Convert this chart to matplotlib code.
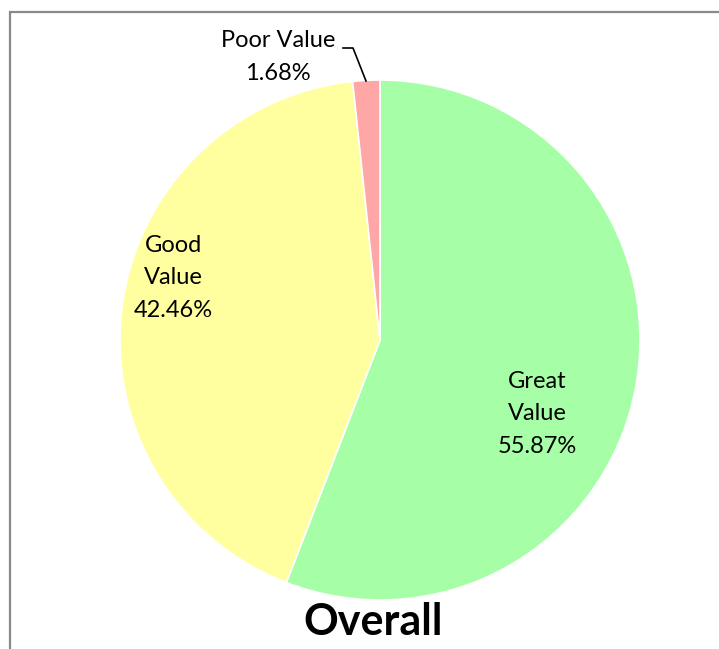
import matplotlib.pyplot as plt
from matplotlib.patches import Rectangle

# data
categories = ["Great Value", "Good Value", "Poor Value"]
shares = [55.87, 42.46, 1.68]
labels = ["Great\nValue\n55.87%", "Good\nValue\n42.46%", "Poor Value\n1.68%"]
colors = ["#A6FFA6", "#FFFFA0", "#FFA6A6"]

plt.rcParams['font.family'] = ['Lato', 'DejaVu Sans']

W, H = 719, 649
fig = plt.figure(figsize=(W / 100, H / 100), dpi=100)
ax = fig.add_axes([0, 0, 1, 1])

cx, cy, r = 380, H - 340, 260
wedges, _ = ax.pie(shares, colors=colors, startangle=90, counterclock=False,
                   center=(cx, cy), radius=r, frame=True,
                   wedgeprops=dict(edgecolor='white', linewidth=1.2))
ax.set_xlim(0, W)
ax.set_ylim(0, H)
ax.set_aspect('equal')
ax.axis('off')

# chart border (gray frame, runs off right/bottom)
ax.add_patch(Rectangle((10, -10), W + 20, H - 12 + 10, fill=False,
                       edgecolor='#898989', linewidth=1.6))

lab = dict(ha='center', va='center', fontsize=17, linespacing=1.65)
ax.text(537, H - 414, labels[0], **lab)
ax.text(173, H - 278, labels[1], **lab)
ax.text(278, H - 57, labels[2], **lab)

# leader line for the small slice
ax.plot([343, 353, 366], [H - 48, H - 48, H - 81], color='black', linewidth=1.2)

ax.text(373, H - 622, "Overall", ha='center', va='center', fontsize=31, fontweight='bold')

fig.savefig("out.png", dpi=100)
